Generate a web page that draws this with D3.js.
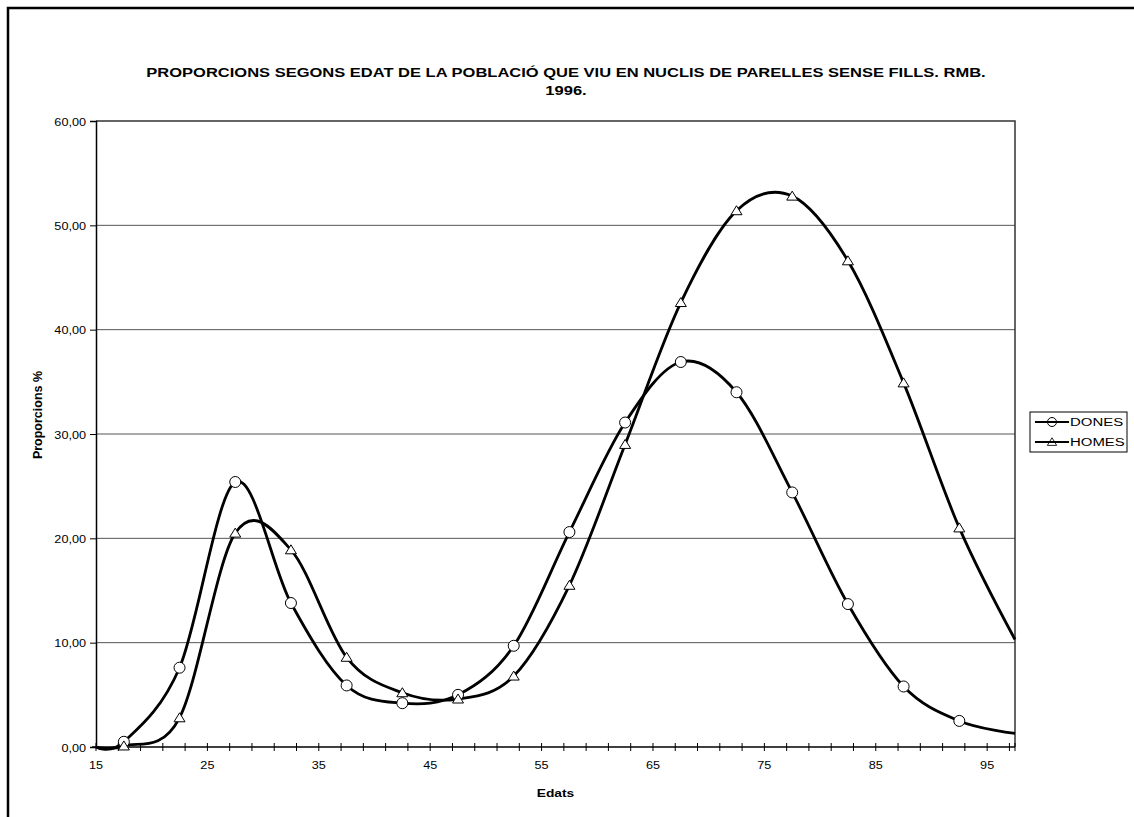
<!DOCTYPE html>
<html>
<head>
<meta charset="utf-8">
<script src="https://cdn.jsdelivr.net/npm/d3@7"></script>
<style>
  body { margin: 0; background: #fff; }
  text { font-family: "Liberation Sans", Arial, sans-serif; fill: #000; }
</style>
</head>
<body>
<div id="root"></div>
<script>
// data (age group midpoints, proportions %)
const ages = [17.5, 22.5, 27.5, 32.5, 37.5, 42.5, 47.5, 52.5, 57.5, 62.5, 67.5, 72.5, 77.5, 82.5, 87.5, 92.5];
const dones = [0.5, 7.6, 25.4, 13.8, 5.9, 4.2, 5.0, 9.7, 20.6, 31.1, 36.9, 34.0, 24.4, 13.7, 5.8, 2.5];
const homes = [0.1, 2.8, 20.5, 18.9, 8.6, 5.2, 4.6, 6.8, 15.5, 29.0, 42.6, 51.4, 52.8, 46.6, 34.9, 21.0];

// unmarked ends of the smoothed lines (axis edges)
const edgeAges = [15, 97.5];
const donesEdges = [0, 1.3];
const homesEdges = [0, 10.3];

const yTicks = [0, 10, 20, 30, 40, 50, 60];
const xTicks = [15, 25, 35, 45, 55, 65, 75, 85, 95];

const titleLines = ['PROPORCIONS SEGONS EDAT DE LA POBLACIÓ QUE VIU EN NUCLIS DE PARELLES SENSE FILLS. RMB.', '1996.'];

const width = 1134, height = 817;
const plot = { left: 96, right: 1015, top: 121, bottom: 747 };

const svg = d3.select('#root').append('svg')
  .attr('width', width)
  .attr('height', height)
  .attr('viewBox', [0, 0, width, height]);

svg.append('rect').attr('width', width).attr('height', height).attr('fill', '#fff');

// outer chart border (only left and top visible)
svg.append('path')
  .attr('d', `M 8 ${height} L 8 8 L ${width} 8`)
  .attr('fill', 'none')
  .attr('stroke', '#000')
  .attr('stroke-width', 2.5);

const x = d3.scaleLinear().domain([15, 97.5]).range([plot.left, plot.right]);
const y = d3.scaleLinear().domain([0, 60]).range([plot.bottom, plot.top]);

const fmt = v => d3.format('.2f')(v).replace('.', ',');

// the reference text is rendered a bit wider than plain Arial,
// so texts are placed at (px, py) and widened by sx
function wideText(sel, px, py, size, bold, sx) {
  return sel
    .attr('transform', `translate(${px},${py}) scale(${sx},1)`)
    .style('font-size', size + 'px')
    .style('font-weight', bold ? 'bold' : 'normal');
}

// gridlines
svg.append('g').selectAll('line')
  .data(yTicks.filter(d => d > 0 && d < 60))
  .join('line')
  .attr('x1', plot.left).attr('x2', plot.right)
  .attr('y1', d => y(d)).attr('y2', d => y(d))
  .attr('stroke', '#555')
  .attr('stroke-width', 1);

// plot area border top / right
svg.append('path')
  .attr('d', `M ${plot.left} ${plot.top} L ${plot.right} ${plot.top} L ${plot.right} ${plot.bottom}`)
  .attr('fill', 'none')
  .attr('stroke', '#333')
  .attr('stroke-width', 1.5);

// y axis
const yAxis = svg.append('g')
  .attr('transform', `translate(${plot.left},0)`)
  .call(d3.axisLeft(y).tickValues(yTicks).tickFormat(fmt).tickSize(6).tickPadding(4));
yAxis.select('.domain').attr('stroke', '#000').attr('stroke-width', 1.5);
yAxis.selectAll('.tick line').attr('stroke', '#000');
yAxis.selectAll('.tick text').each(function() {
  const t = d3.select(this);
  t.attr('x', null).attr('dy', null);
  wideText(t, -10, 4, 11, false, 1.15).attr('text-anchor', 'end');
});

// x axis: minor ticks every 2 years crossing the axis
const minorTicks = d3.range(15, 98, 2);
svg.append('g').selectAll('line')
  .data(minorTicks.concat([97.5]))
  .join('line')
  .attr('x1', d => x(d)).attr('x2', d => x(d))
  .attr('y1', plot.bottom - 4).attr('y2', plot.bottom + 4)
  .attr('stroke', '#000');

svg.append('line')
  .attr('x1', plot.left - 4).attr('x2', plot.right)
  .attr('y1', plot.bottom).attr('y2', plot.bottom)
  .attr('stroke', '#000')
  .attr('stroke-width', 1.5);

svg.append('g').selectAll('text')
  .data(xTicks)
  .join('text')
  .attr('text-anchor', 'middle')
  .text(d => d)
  .each(function(d) { wideText(d3.select(this), x(d), plot.bottom + 22, 11, false, 1.15); });

// axis titles
wideText(svg.append('text').attr('text-anchor', 'middle').text('Edats'),
  (plot.left + plot.right) / 2, 797, 11.5, true, 1.2);

svg.append('text')
  .attr('transform', `translate(42,415) rotate(-90)`)
  .attr('text-anchor', 'middle')
  .style('font-size', '12.5px')
  .style('font-weight', 'bold')
  .text('Proporcions %');

// title
svg.append('g').selectAll('text')
  .data(titleLines)
  .join('text')
  .attr('text-anchor', 'middle')
  .text(d => d)
  .each(function(d, i) { wideText(d3.select(this), 566, 77 + i * 18, 12.7, true, 1.3); });

// series
const series = [
  { name: 'DONES', values: dones, edges: donesEdges, marker: 'circle' },
  { name: 'HOMES', values: homes, edges: homesEdges, marker: 'triangle' }
];

const line = d3.line()
  .x(d => x(d[0]))
  .y(d => y(d[1]))
  .curve(d3.curveCatmullRom.alpha(0));

const triangle = 'M 0 -5 L 5.5 4 L -5.5 4 Z';

function drawMarker(sel, type) {
  if (type === 'circle') {
    sel.append('circle').attr('r', 5.5);
  } else {
    sel.append('path').attr('d', triangle);
  }
  sel.selectAll('circle, path')
    .attr('fill', '#fff')
    .attr('stroke', '#000')
    .attr('stroke-width', 1);
}

series.forEach(s => {
  const pts = [[edgeAges[0], s.edges[0]]]
    .concat(ages.map((a, i) => [a, s.values[i]]))
    .concat([[edgeAges[1], s.edges[1]]]);

  svg.append('path')
    .datum(pts)
    .attr('d', line)
    .attr('fill', 'none')
    .attr('stroke', '#000')
    .attr('stroke-width', 2.8);
});

series.forEach(s => {
  const g = svg.append('g').selectAll('g')
    .data(ages.map((a, i) => [a, s.values[i]]))
    .join('g')
    .attr('transform', d => `translate(${x(d[0])},${y(d[1])})`);
  g.each(function() { drawMarker(d3.select(this), s.marker); });
});

// legend
const legend = svg.append('g');
legend.append('rect')
  .attr('x', 1030).attr('y', 412)
  .attr('width', 97).attr('height', 40)
  .attr('fill', '#fff')
  .attr('stroke', '#000')
  .attr('stroke-width', 1);

series.forEach((s, i) => {
  const ly = 422 + i * 20;
  legend.append('line')
    .attr('x1', 1035).attr('x2', 1069)
    .attr('y1', ly).attr('y2', ly)
    .attr('stroke', '#000')
    .attr('stroke-width', 2);
  const m = legend.append('g').attr('transform', `translate(1052,${ly})`);
  drawMarker(m, s.marker);
  m.selectAll('circle').attr('r', 4.5).attr('fill', 'none');
  m.selectAll('path').attr('transform', 'scale(0.85)').attr('fill', 'none');
  wideText(legend.append('text').text(s.name), 1070, ly + 4, 11.5, false, 1.3);
});
</script>
</body>
</html>
